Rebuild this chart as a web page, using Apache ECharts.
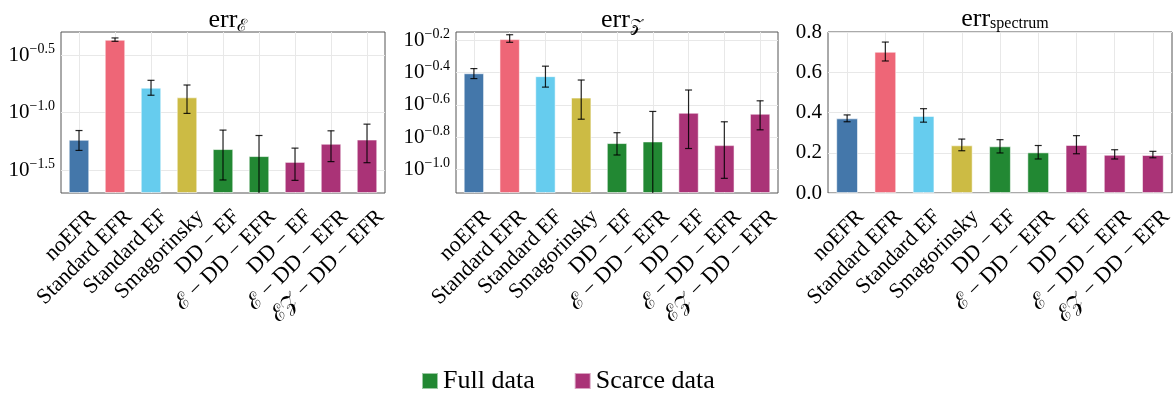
<!DOCTYPE html>
<html>
<head>
<meta charset="utf-8">
<script src="https://cdn.jsdelivr.net/npm/echarts@6/dist/echarts.min.js"></script>
<style>
  html, body { margin: 0; background: #fff; }
  #main { width: 1174px; height: 396px; }
</style>
</head>
<body>
<div id="main"></div>
<script>
var categories = ['noEFR', 'Standard EFR', 'Standard EF', 'Smagorinsky', 'DD − EF', 'ℰ − DD − EFR', 'DD − EF', 'ℰ − DD − EFR', 'ℰ𝒵 − DD − EFR'];
// group of each bar: baselines, full data, scarce data
var groups = ['base', 'base', 'base', 'base', 'full', 'full', 'scarce', 'scarce', 'scarce'];
var baseColors = ['#4477AA', '#EE6677', '#66CCEE', '#CCBB44'];

// err_E (log axis)
var errE = [0.0579, 0.4295, 0.1644, 0.1355, 0.0481, 0.0418, 0.0372, 0.0535, 0.0582];
var errELow = [0.0468, 0.416, 0.1413, 0.0982, 0.0259, 0.0190, 0.0257, 0.0374, 0.0366];
var errEHigh = [0.0697, 0.445, 0.1905, 0.1734, 0.0703, 0.0631, 0.0490, 0.0693, 0.0792];

// err_Z (log axis)
var errZ = [0.3945, 0.6427, 0.3784, 0.2786, 0.1455, 0.1489, 0.2244, 0.1413, 0.2213];
var errZLow = [0.3656, 0.6138, 0.3236, 0.2046, 0.1227, 0.0680, 0.1346, 0.0879, 0.1758];
var errZHigh = [0.4217, 0.6839, 0.4365, 0.3581, 0.1687, 0.2286, 0.3105, 0.1972, 0.2661];

// err_spectrum (linear axis)
var errS = [0.371, 0.702, 0.383, 0.237, 0.232, 0.202, 0.239, 0.190, 0.189];
var errSLow = [0.354, 0.656, 0.352, 0.210, 0.199, 0.169, 0.195, 0.169, 0.175];
var errSHigh = [0.388, 0.750, 0.419, 0.268, 0.265, 0.236, 0.285, 0.215, 0.207];

var ticksE = [Math.pow(10, -1.5), Math.pow(10, -1.0), Math.pow(10, -0.5)];
var ticksZ = [Math.pow(10, -1.0), Math.pow(10, -0.8), Math.pow(10, -0.6), Math.pow(10, -0.4), Math.pow(10, -0.2)];

var serif = "'Liberation Serif', 'DejaVu Serif', serif";
var gridColor = '#e8e8e8';

var chart = echarts.init(document.getElementById('main'));

function barSeries(idx, values, group, name, color) {
    return {
        name: name,
        type: 'bar',
        xAxisIndex: idx,
        yAxisIndex: idx,
        barWidth: '57%',
        barGap: '-100%',
        itemStyle: {
            color: color,
            borderColor: 'rgba(255,255,255,0.55)',
            borderWidth: 1
        },
        data: values.map(function (v, i) {
            if (groups[i] !== group) {
                return '-';
            }
            if (group === 'base') {
                return { value: v, itemStyle: { color: baseColors[i] } };
            }
            return v;
        })
    };
}

function errorSeries(idx, lo, hi) {
    return {
        type: 'custom',
        xAxisIndex: idx,
        yAxisIndex: idx,
        z: 10,
        silent: true,
        data: lo.map(function (l, i) { return [i, l, hi[i]]; }),
        encode: { x: 0, y: [1, 2] },
        renderItem: function (params, api) {
            var p1 = api.coord([api.value(0), api.value(2)]);
            var p0 = api.coord([api.value(0), api.value(1)]);
            var cs = params.coordSys;
            var yMin = cs.y, yMax = cs.y + cs.height;
            var x = p1[0];
            var top = Math.max(p1[1], yMin);
            var bot = Math.min(p0[1], yMax);
            var style = { stroke: 'rgba(0,0,0,0.85)', lineWidth: 1.2 };
            var kids = [{ type: 'line', shape: { x1: x, y1: top, x2: x, y2: bot }, style: style }];
            if (p1[1] >= yMin) {
                kids.push({ type: 'line', shape: { x1: x - 3.5, y1: p1[1], x2: x + 3.5, y2: p1[1] }, style: style });
            }
            if (p0[1] <= yMax) {
                kids.push({ type: 'line', shape: { x1: x - 3.5, y1: p0[1], x2: x + 3.5, y2: p0[1] }, style: style });
            }
            return { type: 'group', children: kids };
        }
    };
}

function xAxis(idx) {
    return {
        type: 'category',
        gridIndex: idx,
        data: categories,
        axisLine: { show: false },
        axisTick: { alignWithLabel: true, length: 4, lineStyle: { color: '#444' } },
        axisLabel: {
            rotate: 45, interval: 0, margin: 7, verticalAlign: 'top',
            formatter: function (v) { return '{t|' + v + '}'; },
            rich: {
                t: { fontSize: 22, fontFamily: serif, color: '#000', padding: [8, 0, 0, 0] }
            }
        },
        splitLine: { show: true, alignWithLabel: true, lineStyle: { color: gridColor } }
    };
}

function logLabel(v) {
    var e = Math.log10(v).toFixed(1).replace('-', '−');
    return '{b|10}{s|' + e + '}';
}

var logRich = {
    b: { fontSize: 21, fontFamily: serif, color: '#000' },
    s: { fontSize: 14, fontFamily: serif, color: '#000', padding: [0, 0, 12, 0] }
};

function logAxis(idx, lo, hi, ticks) {
    return {
        type: 'log',
        logBase: 10,
        gridIndex: idx,
        min: Math.pow(10, lo),
        max: Math.pow(10, hi),
        startValue: Math.pow(10, lo),
        axisLine: { show: false },
        axisTick: { show: false, customValues: ticks },
        axisLabel: { customValues: ticks, formatter: logLabel, rich: logRich, margin: 6 },
        splitLine: { show: true, lineStyle: { color: gridColor } },
        minorSplitLine: { show: false }
    };
}

var titleRich = {
    a: { fontSize: 26, fontFamily: serif, fontWeight: 'normal', color: '#000' },
    b: { fontSize: 17, fontFamily: serif, fontWeight: 'normal', color: '#000', padding: [12, 0, 0, 0] },
    c: { fontSize: 16, fontFamily: serif, fontWeight: 'normal', color: '#000', padding: [10, 0, 0, 0] }
};

function grid(left, width) {
    return {
        left: left, top: 32, width: width, height: 161,
        outerBoundsMode: 'none',
        show: true, borderColor: '#555', borderWidth: 1
    };
}

var option = {
    animation: false,
    backgroundColor: '#fff',
    title: [
        { text: '{a|err}{b|ℰ}', left: 223, top: 1, textAlign: 'center', textStyle: { fontWeight: 'normal', rich: titleRich } },
        { text: '{a|err}{b|𝒵}', left: 617, top: 1, textAlign: 'center', textStyle: { fontWeight: 'normal', rich: titleRich } },
        { text: '{a|err}{c|spectrum}', left: 1000, top: 1, textAlign: 'center', textStyle: { fontWeight: 'normal', rich: titleRich } }
    ],
    legend: {
        data: ['Full data', 'Scarce data'],
        top: 363,
        left: 416,
        icon: 'rect',
        itemWidth: 16,
        itemHeight: 16,
        itemGap: 39,
        textStyle: { fontSize: 26, fontFamily: serif, color: '#000' }
    },
    grid: [grid(61, 324), grid(456, 322), grid(828, 344)],
    xAxis: [xAxis(0), xAxis(1), xAxis(2)],
    yAxis: [
        logAxis(0, -1.7, -0.3, ticksE),
        logAxis(1, -1.147, -0.148, ticksZ),
        {
            type: 'value',
            gridIndex: 2,
            min: 0,
            max: 0.8,
            interval: 0.2,
            axisLine: { show: false },
            axisTick: { show: false },
            axisLabel: {
                margin: 6, fontSize: 21, fontFamily: serif, color: '#000',
                formatter: function (v) { return v.toFixed(1); }
            },
            splitLine: { show: true, lineStyle: { color: gridColor } }
        }
    ],
    series: [
        barSeries(0, errE, 'base', 'baseline'),
        barSeries(0, errE, 'full', 'Full data', '#228833'),
        barSeries(0, errE, 'scarce', 'Scarce data', '#AA3377'),
        errorSeries(0, errELow, errEHigh),
        barSeries(1, errZ, 'base', 'baseline'),
        barSeries(1, errZ, 'full', 'Full data', '#228833'),
        barSeries(1, errZ, 'scarce', 'Scarce data', '#AA3377'),
        errorSeries(1, errZLow, errZHigh),
        barSeries(2, errS, 'base', 'baseline'),
        barSeries(2, errS, 'full', 'Full data', '#228833'),
        barSeries(2, errS, 'scarce', 'Scarce data', '#AA3377'),
        errorSeries(2, errSLow, errSHigh)
    ]
};

chart.setOption(option);
</script>
</body>
</html>
